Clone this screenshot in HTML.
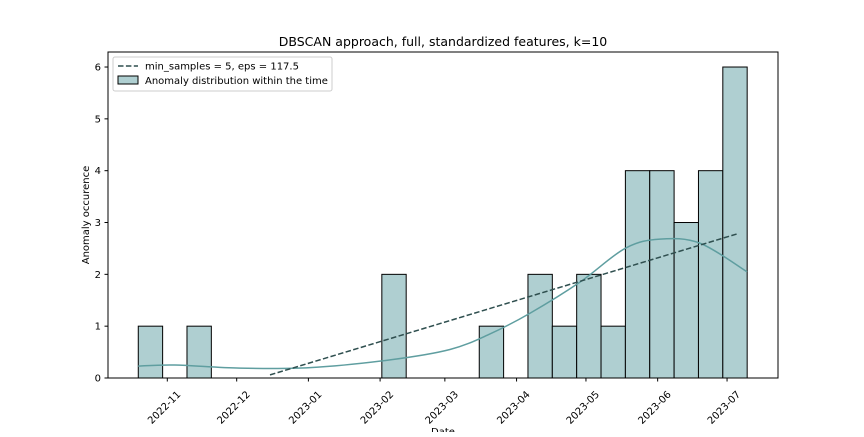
<!DOCTYPE html>
<html><head><meta charset="utf-8"><style>
body{margin:0;background:#fff;width:864px;height:432px;overflow:hidden;font-family:"Liberation Sans","DejaVu Sans",sans-serif}
</style></head><body>
<svg id="chart" width="864" height="432" xmlns="http://www.w3.org/2000/svg" font-family="DejaVu Sans, Liberation Sans, sans-serif"></svg>
<script>
const binCounts=[1,0,1,0,0,0,0,0,0,0,2,0,0,0,1,0,2,1,2,1,4,4,3,4,6];
const binStartDay=-12.55, binWidthDays=10.53;
const monthLabels=["2022-11","2022-12","2023-01","2023-02","2023-03","2023-04","2023-05","2023-06","2023-07"];
const monthDays=[0,30,61,92,120,151,181,212,242];
const yTicks=[0,1,2,3,4,5,6];
const kdeDays=[-12.6,3.3,31.4,61.7,96.3,122.2,139.5,156.8,178.4,197.9,213,230.3,250.6];
const kdeVals=[0.23,0.25,0.19,0.2,0.35,0.55,0.85,1.25,1.85,2.5,2.68,2.6,2.05];
const trendDays=[44.4,246.3];
const trendVals=[0.06,2.78];

const NS="http://www.w3.org/2000/svg", svg=document.getElementById('chart');
const L=108,R=778,T=52,B=378;
const xs=d=>167.3+d*2.313;
const ys=v=>B-v*51.83;
function mk(t,a,p){const e=document.createElementNS(NS,t);for(const k in a)e.setAttribute(k,a[k]);(p||svg).appendChild(e);return e;}

let e=mk('text',{x:443,y:46,'text-anchor':'middle','font-size':12.5,fill:'#000'});e.textContent="DBSCAN approach, full, standardized features, k=10";



binCounts.forEach((c,i)=>{if(!c)return;
 const x0=xs(binStartDay+i*binWidthDays),x1=xs(binStartDay+(i+1)*binWidthDays);
 const r=mk('rect',{x:x0,y:ys(c),width:x1-x0,height:ys(0)-ys(c),fill:'#afcfd1',stroke:'#000','stroke-width':1});
 
 
});

const kp=kdeDays.map((d,i)=>[xs(d),ys(kdeVals[i])]);
let dstr="M"+kp[0][0]+","+kp[0][1];
for(let i=0;i<kp.length-1;i++){const p0=kp[i-1]||kp[i],p1=kp[i],p2=kp[i+1],p3=kp[i+2]||p2;
 dstr+=` C${p1[0]+(p2[0]-p0[0])/6},${p1[1]+(p2[1]-p0[1])/6} ${p2[0]-(p3[0]-p1[0])/6},${p2[1]-(p3[1]-p1[1])/6} ${p2[0]},${p2[1]}`;}
e=mk('path',{d:dstr,fill:'none',stroke:'#5f9ea0','stroke-width':1.5});



e=mk('line',{x1:xs(trendDays[0]),y1:ys(trendVals[0]),x2:xs(trendDays[1]),y2:ys(trendVals[1]),stroke:'#2f4f4f','stroke-width':1.5,'stroke-dasharray':'5.5,2.4'});



e=mk('rect',{x:L,y:T,width:R-L,height:B-T,fill:'none',stroke:'#000','stroke-width':1});



yTicks.forEach(v=>{const y=ys(v);mk('line',{x1:L-3.5,y1:y,x2:L,y2:y,stroke:'#000'});
 const t=mk('text',{x:L-7,y:y+3.5,'text-anchor':'end','font-size':10,fill:'#000'});t.textContent=v;
 
 });

monthDays.forEach((d,i)=>{const x=xs(d);mk('line',{x1:x,y1:B,x2:x,y2:B+3.5,stroke:'#000'});
 const ax=x+14,ay=B+17;
 const t=mk('text',{x:ax,y:ay,'text-anchor':'end','font-size':10,fill:'#000',transform:`rotate(-45 ${ax} ${ay})`});t.textContent=monthLabels[i];
 
 });

e=mk('text',{x:443,y:435,'text-anchor':'middle','font-size':10,fill:'#000'});e.textContent="Date";


e=mk('text',{x:89,y:215,'text-anchor':'middle','font-size':10,fill:'#000',transform:'rotate(-90 89 215)'});e.textContent="Anomaly occurence";



const lg=mk('g',{});


mk('rect',{x:113,y:57,width:219,height:34,rx:2,fill:'#fff',stroke:'#ccc'},lg);
mk('line',{x1:118,y1:66,x2:138,y2:66,stroke:'#2f4f4f','stroke-width':1.5,'stroke-dasharray':'5.5,2.4'},lg);
mk('rect',{x:118,y:76,width:20,height:8,fill:'#afcfd1',stroke:'#000'},lg);
e=mk('text',{x:145,y:69.5,'font-size':10,fill:'#000'},lg);e.textContent="min_samples = 5, eps = 117.5";


e=mk('text',{x:145,y:84,'font-size':10,fill:'#000'},lg);e.textContent="Anomaly distribution within the time";


</script>
</body></html>
